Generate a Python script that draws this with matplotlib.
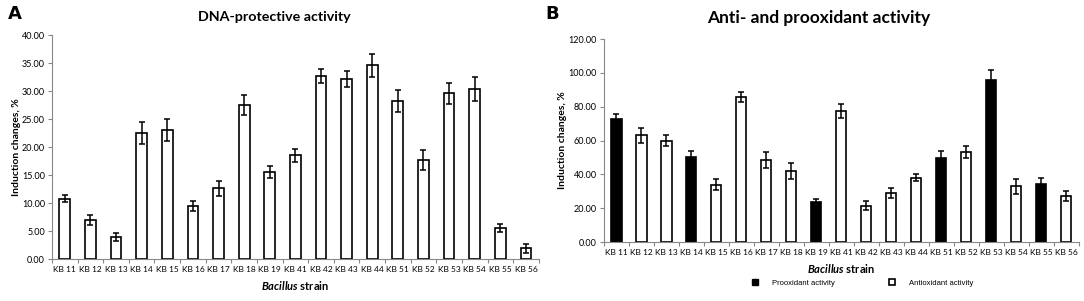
import numpy as np
import matplotlib.pyplot as plt
from matplotlib.lines import Line2D

plt.rcParams['font.family'] = ['Lato', 'DejaVu Sans']
plt.rcParams['mathtext.fontset'] = 'custom'
plt.rcParams['mathtext.bfit'] = 'Lato:italic:bold'
plt.rcParams['mathtext.rm'] = 'Lato'

strains = ['KB 11', 'KB 12', 'KB 13', 'KB 14', 'KB 15', 'KB 16', 'KB 17', 'KB 18', 'KB 19',
           'KB 41', 'KB 42', 'KB 43', 'KB 44', 'KB 51', 'KB 52', 'KB 53', 'KB 54', 'KB 55', 'KB 56']

# panel A: DNA-protective activity
dna_vals = [10.8, 7.0, 3.9, 22.5, 23.0, 9.4, 12.6, 27.5, 15.6,
            18.5, 32.7, 32.2, 34.6, 28.2, 17.7, 29.6, 30.4, 5.6, 1.9]
dna_err = [0.6, 0.9, 0.7, 1.9, 2.0, 0.9, 1.3, 1.8, 1.1,
           1.1, 1.2, 1.4, 2.1, 1.9, 1.8, 1.9, 2.1, 0.7, 0.8]

# panel B: anti- and prooxidant activity
ox_vals = [73.0, 63.0, 60.0, 50.0, 34.0, 86.0, 48.5, 42.0, 23.5,
           77.5, 21.5, 29.0, 38.0, 49.5, 53.0, 96.0, 33.0, 34.5, 27.0]
ox_err = [2.5, 4.5, 3.0, 4.0, 3.5, 3.0, 5.0, 4.5, 2.0,
          4.0, 2.5, 3.0, 2.0, 4.5, 3.5, 5.5, 4.5, 3.5, 3.0]
prooxidant = [True, False, False, True, False, False, False, False, True,
              False, False, False, False, True, False, True, False, True, False]

fig = plt.figure(figsize=(10.84, 3.01), dpi=100)
axA = fig.add_axes([0.048, 0.1395, 0.449, 0.744])
axB = fig.add_axes([0.557, 0.196, 0.438, 0.674])

x = np.arange(len(strains))


def style_axis(ax, ymax, step):
    ax.set_xlim(-0.5, len(strains) - 0.5)
    ax.set_ylim(0, ymax)
    ticks = np.arange(0, ymax + 0.01, step)
    ax.set_yticks(ticks)
    ax.set_yticklabels(['%.2f' % v for v in ticks], fontsize=6.5)
    ax.set_xticks(x)
    ax.set_xticklabels(strains, fontsize=6)
    ax.set_xticks(np.arange(-0.5, len(strains)), minor=True)
    ax.tick_params(axis='x', which='major', length=0, pad=5)
    ax.tick_params(axis='x', which='minor', length=3, width=0.8, color='#888888')
    ax.tick_params(axis='y', length=3, width=0.8, color='#888888', pad=2)
    for s in ['top', 'right']:
        ax.spines[s].set_visible(False)
    ax.spines['left'].set_color('#888888')
    ax.spines['bottom'].set_color('#888888')
    ax.set_ylabel('Induction changes, %', fontsize=7.5, fontweight='bold', labelpad=1)
    ax.set_xlabel(r'$\mathbfit{Bacillus}$ strain', fontsize=8, fontweight='bold', labelpad=4)


axA.bar(x, dna_vals, width=0.42, color='white', edgecolor='black', linewidth=1.2,
        yerr=dna_err, error_kw=dict(ecolor='black', elinewidth=1.1, capsize=2, capthick=1.1))
style_axis(axA, 40, 5)

colors = ['black' if p else 'white' for p in prooxidant]
axB.bar(x, ox_vals, width=0.42, color=colors, edgecolor='black', linewidth=1.2,
        yerr=ox_err, error_kw=dict(ecolor='black', elinewidth=1.1, capsize=2, capthick=1.1))
style_axis(axB, 120, 20)

fig.text(0.253, 0.945, 'DNA-protective activity', ha='center', va='center',
         fontsize=10.3, fontweight='bold')
fig.text(0.755, 0.94, 'Anti- and prooxidant activity', ha='center', va='center',
         fontsize=12.5, fontweight='bold')
fig.text(0.007, 0.955, 'A', fontsize=13, fontweight='bold', va='center', family='DejaVu Sans')
fig.text(0.503, 0.955, 'B', fontsize=13, fontweight='bold', va='center', family='DejaVu Sans')

handles = [Line2D([], [], marker='s', linestyle='none', markersize=4,
                  markerfacecolor='black', markeredgecolor='black', markeredgewidth=1),
           Line2D([], [], marker='s', linestyle='none', markersize=4,
                  markerfacecolor='white', markeredgecolor='black', markeredgewidth=1.2)]
fig.legend(handles, ['Prooxidant activity', 'Antioxidant activity'], loc='center',
           bbox_to_anchor=(0.794, 0.06), ncol=2, frameon=False,
           prop={'family': 'Liberation Sans', 'size': 5.5},
           handletextpad=1.2, columnspacing=6.5)

fig.savefig('out.png', dpi=100)
